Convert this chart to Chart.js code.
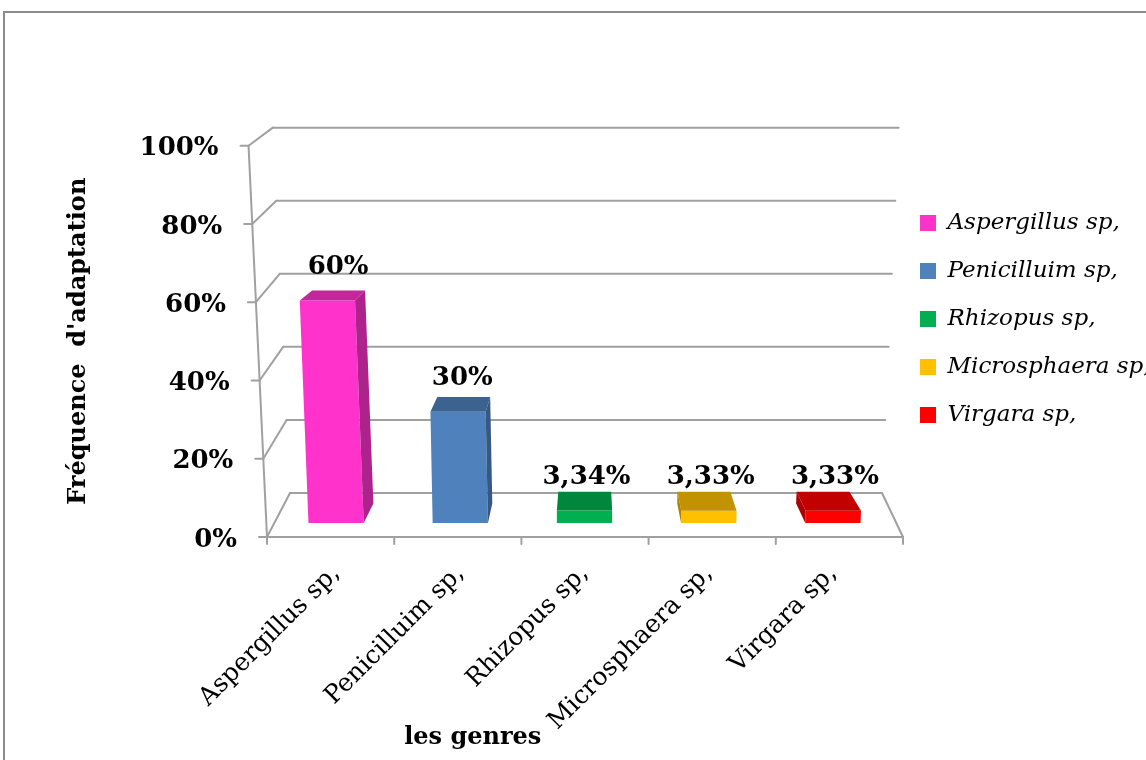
<!DOCTYPE html>
<html>
<head>
<meta charset="utf-8">
<script src="https://cdn.jsdelivr.net/npm/chart.js@4.4.1/dist/chart.umd.min.js"></script>
<style>
  html, body { margin: 0; padding: 0; background: #fff; overflow: hidden; }
  #wrap { position: relative; width: 1146px; height: 760px; }
  #marco { position: absolute; left: 3px; top: 11px; width: 1400px; height: 1000px; border: 2px solid #8c8c8c; pointer-events: none; }
</style>
</head>
<body>
<div id="wrap">
  <canvas id="grafico" width="1146" height="760"></canvas>
  <div id="marco"></div>
</div>
<script>
const categorias = ['Aspergillus sp,', 'Penicilluim sp,', 'Rhizopus sp,', 'Microsphaera sp,', 'Virgara sp,'];
const frecuencias = [60, 30, 3.34, 3.33, 3.33];
const ticksY = [0, 20, 40, 60, 80, 100];
const etiquetasY = ['0%', '20%', '40%', '60%', '80%', '100%'];

const colores = ['#FF33CC', '#4F81BD', '#00B050', '#FFC000', '#FF0000'];
const FUENTE = 'DejaVu Serif';
const INCLINACION = 0.057;   // lean of vertical edges per 100%
const PROF_BARRA = 0.9575;   // back face of a bar, scale toward vanishing point

const oscurecer = (hex, f) => {
  const n = parseInt(hex.slice(1), 16);
  const r = Math.round(((n >> 16) & 255) * f);
  const g = Math.round(((n >> 8) & 255) * f);
  const b = Math.round((n & 255) * f);
  return `rgb(${r},${g},${b})`;
};

const formato = v => String(v).replace('.', ',') + '%';

// walls, floor and axis are planes placed around the chart area
const geometria = (chart) => {
  const ca = chart.chartArea, ys = chart.scales.y;
  const y0 = ys.getPixelForValue(0);
  const unit = y0 - ys.getPixelForValue(100);
  return {
    y0, unit,
    xv: ca.left + (ca.right - ca.left) * 0.51,
    vb: {x: ca.left + (ca.right - ca.left) * 0.51, y: ys.getPixelForValue(123)},
    front: {left: ca.left - 7, right: ca.right + 8, floor: y0 + 14, span: unit * 1.055},
    back: {left: ca.left + 16, right: ca.right - 13, floor: y0 - 30, span: unit * 0.985}
  };
};

const punto = (g, pl, frac, v) => {
  let x = pl.left + frac * (pl.right - pl.left);
  const y = pl.floor - v / 100 * pl.span;
  x += (x - g.xv) * INCLINACION * v / 100;
  return [x, y];
};

const linea = (ctx, a, b) => {
  ctx.beginPath();
  ctx.moveTo(a[0], a[1]);
  ctx.lineTo(b[0], b[1]);
  ctx.stroke();
};

const poligono = (ctx, pts, color) => {
  ctx.beginPath();
  ctx.moveTo(pts[0][0], pts[0][1]);
  for (let i = 1; i < pts.length; i++) ctx.lineTo(pts[i][0], pts[i][1]);
  ctx.closePath();
  ctx.fillStyle = color;
  ctx.fill();
};

const esquinasBarra = (chart, i) => {
  const g = geometria(chart);
  const el = chart.getDatasetMeta(i).data[i];
  const {x, y, base, width} = el.getProps(['x', 'y', 'base', 'width'], true);
  const sh = (x - g.xv) * INCLINACION / g.unit;
  const izq = x - width / 2, der = x + width / 2;
  const desp = sh * (base - y);
  const atras = p => [g.vb.x + (p[0] - g.vb.x) * PROF_BARRA, g.vb.y + (p[1] - g.vb.y) * PROF_BARRA];
  const ftl = [izq + desp, y], ftr = [der + desp, y], fbl = [izq, base], fbr = [der, base];
  return {g, x, y, base, sh, izq, der, ftl, ftr, fbl, fbr, atras};
};

const grafico3D = {
  id: 'grafico3D',
  beforeDatasetsDraw(chart) {
    const ctx = chart.ctx;
    const g = geometria(chart);
    ctx.save();
    ctx.strokeStyle = '#a0a0a0';
    ctx.lineWidth = 2;
    ctx.lineCap = 'round';

    ticksY.forEach(v => {
      const f = punto(g, g.front, 0, v);
      const b0 = punto(g, g.back, 0, v);
      const b1 = punto(g, g.back, 1, v);
      linea(ctx, b0, b1);
      linea(ctx, f, b0);
      linea(ctx, [f[0] - 8, f[1]], f);
    });
    // front axis and floor
    linea(ctx, punto(g, g.front, 0, 0), punto(g, g.front, 0, 100));
    linea(ctx, punto(g, g.front, 0, 0), punto(g, g.front, 1, 0));
    linea(ctx, punto(g, g.front, 1, 0), punto(g, g.back, 1, 0));
    for (let k = 0; k <= categorias.length; k++) {
      const p = punto(g, g.front, k / categorias.length, 0);
      linea(ctx, p, [p[0], p[1] + 7]);
    }

    ctx.fillStyle = '#000';
    ctx.font = `bold 26px "${FUENTE}"`;
    ctx.textAlign = 'right';
    ctx.textBaseline = 'middle';
    ticksY.forEach((v, i) => {
      const f = punto(g, g.front, 0, v);
      ctx.fillText(etiquetasY[i], f[0] - 30, f[1] + 3);
    });
    ctx.restore();
  },
  beforeDatasetDraw(chart, args) {
    const c = esquinasBarra(chart, args.index);
    chart.ctx.save();
    chart.ctx.transform(1, 0, -c.sh, 1, c.sh * c.base, 0);
  },
  afterDatasetDraw(chart, args) {
    const ctx = chart.ctx;
    ctx.restore();
    const i = args.index;
    const c = esquinasBarra(chart, i);
    const color = colores[i];
    poligono(ctx, [c.ftl, c.ftr, c.atras(c.ftr), c.atras(c.ftl)], oscurecer(color, 0.76));
    if (c.der < c.g.vb.x) {
      poligono(ctx, [c.ftr, c.fbr, c.atras(c.fbr), c.atras(c.ftr)], oscurecer(color, 0.68));
    } else if (c.izq > c.g.vb.x) {
      poligono(ctx, [c.ftl, c.fbl, c.atras(c.fbl), c.atras(c.ftl)], oscurecer(color, 0.68));
    }
  },
  afterDatasetsDraw(chart) {
    const ctx = chart.ctx;
    ctx.save();
    ctx.fillStyle = '#000';
    ctx.font = `bold 26px "${FUENTE}"`;
    ctx.textAlign = 'center';
    ctx.textBaseline = 'middle';
    frecuencias.forEach((v, i) => {
      const c = esquinasBarra(chart, i);
      ctx.fillText(formato(v), c.x + 2, c.y - 33);
    });
    ctx.restore();
  },
  afterDraw(chart) {
    const ctx = chart.ctx, ca = chart.chartArea, ys = chart.scales.y;
    ctx.save();
    ctx.fillStyle = '#000';
    ctx.textAlign = 'center';
    ctx.textBaseline = 'middle';
    ctx.font = `bold 24px "${FUENTE}"`;
    ctx.fillText('les genres', ca.left + (ca.right - ca.left) * 0.32, chart.height - 22);
    ctx.translate(ca.left - 195, ys.getPixelForValue(49));
    ctx.rotate(-Math.PI / 2);
    ctx.font = `bold 24px "${FUENTE}"`;
    ctx.fillText("Fréquence  d'adaptation", 0, 0);
    ctx.restore();
  }
};

const datasets = categorias.map((nombre, i) => ({
  label: nombre,
  data: frecuencias.map((v, j) => (j === i ? v : null)),
  backgroundColor: colores[i],
  borderWidth: 0,
  clip: false
}));

Chart.defaults.font.family = FUENTE;
Chart.defaults.color = '#000';

new Chart(document.getElementById('grafico'), {
  type: 'bar',
  data: {labels: categorias, datasets},
  options: {
    responsive: false,
    animation: false,
    layout: {padding: {left: 274, top: 115, right: 0, bottom: 0}},
    datasets: {bar: {grouped: false, categoryPercentage: 1, barPercentage: 0.445}},
    scales: {
      x: {
        grid: {display: false, drawTicks: false},
        border: {display: false},
        ticks: {
          color: '#000',
          font: {family: FUENTE, size: 25},
          minRotation: 45,
          maxRotation: 45,
          autoSkip: false,
          padding: 36,
          labelOffset: 0
        },
        afterFit: s => { s.height = 237; }
      },
      y: {display: false, min: 0, max: 110}
    },
    plugins: {
      legend: {
        position: 'right',
        fullSize: false,
        maxWidth: 251,
        labels: {
          boxWidth: 16,
          boxHeight: 16,
          padding: 25,
          color: '#000',
          font: {family: FUENTE, size: 23, style: 'italic'}
        }
      },
      tooltip: {enabled: false}
    }
  },
  plugins: [grafico3D]
});
</script>
</body>
</html>
